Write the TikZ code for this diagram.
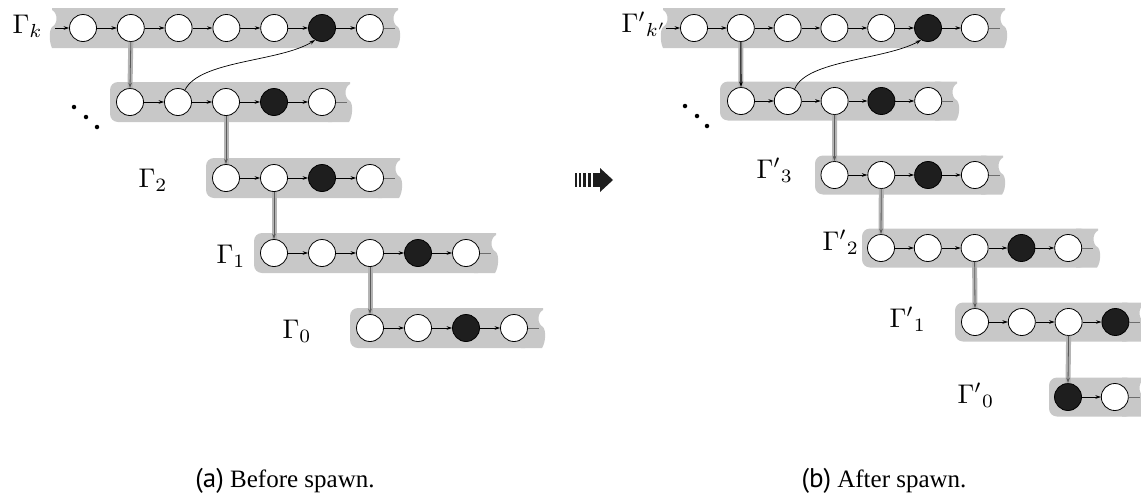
\documentclass[tikz,border=0pt]{standalone}
\usepackage{fontspec}
\setmainfont{Liberation Serif}
\newfontfamily\capsans{PT Sans}
\usetikzlibrary{arrows.meta}
\definecolor{bandgray}{RGB}{200,200,200}
\definecolor{connlight}{RGB}{180,180,180}
\definecolor{conndark}{RGB}{90,90,90}
\definecolor{nodeblack}{RGB}{30,30,30}
\definecolor{tailgray}{RGB}{110,110,110}
\tikzset{
 wht/.style={circle, draw=black, line width=0.8pt, fill=white, minimum size=27pt, inner sep=0pt},
 blk/.style={wht, fill=nodeblack},
 edgearrow/.style={line width=0.7pt, -{Stealth[length=5.5pt,width=3.6pt]}},
 tailline/.style={line width=0.7pt, draw=tailgray},
 connback/.style={line width=5pt, draw=connlight},
 connfront/.style={line width=0.8pt, draw=conndark, -{Stealth[length=5.5pt,width=3.6pt]}},
 connfrontdark/.style={line width=1.1pt, draw=black, -{Stealth[length=5.5pt,width=3.6pt]}},
 gammalabel/.style={inner sep=0pt, scale=2.7, anchor=base west},
 captext/.style={inner sep=0pt, anchor=base, font=\fontsize{25}{28}\selectfont},
 dotmark/.style={circle, fill=black, inner sep=0pt, minimum size=4.5pt},
}
\newcommand\capletter[1]{{\capsans\fontsize{27}{29}\selectfont (#1)}}
\newcommand\bandround[4]{%
  \fill[bandgray, rounded corners=8pt] (#1,#3) rectangle (#2-10,#4);
  \fill[bandgray] (#2-22,#3) -- (#2,#3) -- (#2,#3+2) .. controls (#2-6,#3+5) and (#2-6,#3+16) .. (#2,#3+19) .. controls (#2+3,#3+22) and (#2+3,#3+34) .. (#2-1,#4) -- (#2-22,#4) -- cycle;
}
\newcommand\bandwave[4]{%
  \fill[bandgray] (#1,#3) -- (#2,#3) -- (#2,#3+2) .. controls (#2-6,#3+5) and (#2-6,#3+16) .. (#2,#3+19) .. controls (#2+3,#3+22) and (#2+3,#3+34) .. (#2-1,#4) -- (#1,#4) .. controls (#1-3,#3+34) and (#1-3,#3+22) .. (#1,#3+19) .. controls (#1+6,#3+16) and (#1+6,#3+5) .. (#1,#3+2) -- cycle;
}
\newcommand\chainrow[6]{%
  \foreach \i in {1,...,#5}{%
    \pgfmathsetmacro\xx{#2+(\i-1)*#3}%
    \ifnum\i=#6\relax
      \node[blk] (#1-\i) at (\xx,#4) {};
    \else
      \node[wht] (#1-\i) at (\xx,#4) {};
    \fi
  }%
  \foreach \i in {2,...,#5}{%
    \pgfmathtruncatemacro\pp{\i-1}%
    \draw[edgearrow] (#1-\pp) -- (#1-\i);
  }%
  \draw[tailline] (#1-#5.east) -- ++(11,0);
}
\begin{document}
\begin{tikzpicture}[x=1pt,y=-1pt]
\useasboundingbox (0,0) rectangle (1141,501);
\clip (0,0) rectangle (1141,501);
% ---------- panel (a) bands ----------
\bandwave{52}{398}{8}{48}
\bandround{110}{350}{82}{122}
\bandround{206}{400}{158}{198}
\bandround{254}{496}{233}{273}
\bandround{350}{543}{308}{348}
% ---------- panel (b) bands ----------
\bandwave{663}{1005}{8}{48}
\bandround{720}{957}{81.5}{120.5}
\bandround{815}{1003}{155.5}{194.5}
\bandround{862}{1098}{228.5}{267.5}
\bandround{955}{1144}{302.5}{341.5}
\bandround{1049}{1144}{377.5}{416.5}
% rows (a)
\chainrow{a1}{83}{47.8}{28}{7}{6}
\chainrow{a2}{130}{48}{102}{5}{4}
\chainrow{a3}{226}{48}{178}{4}{3}
\chainrow{a4}{274}{48}{253}{5}{4}
\chainrow{a5}{370}{48}{328}{4}{3}
% rows (b)
\chainrow{b1}{694}{46.8}{28}{7}{6}
\chainrow{b2}{741}{46.8}{101}{5}{4}
\chainrow{b3}{834.5}{46.8}{175}{4}{3}
\chainrow{b4}{881}{46.8}{248}{5}{4}
\chainrow{b5}{975}{46.8}{322}{4}{4}
\chainrow{b6}{1068}{46.8}{397}{2}{1}
% incoming arrows
\coordinate (ain) at (55,28);
\coordinate (bin) at (666,28);
\draw[edgearrow] (ain) -- (a1-1);
\draw[edgearrow] (bin) -- (b1-1);
% vertical connectors (a)
\foreach \u/\v in {a1-2/a2-1, a2-3/a3-1, a3-2/a4-1, a4-3/a5-1}{
  \draw[connback] (\u.south) -- (\v.north);
  \draw[connfront] (\u.south) -- (\v.north);
}
% vertical connectors (b)
\draw[connback] (b1-2.south) -- (b2-1.north);
\draw[connfrontdark] (b1-2.south) -- (b2-1.north);
\foreach \u/\v in {b2-3/b3-1, b3-2/b4-1, b4-3/b5-1, b5-3/b6-1}{
  \draw[connback] (\u.south) -- (\v.north);
  \draw[connfront] (\u.south) -- (\v.north);
}
% curved arrows
\draw[edgearrow] (a2-2.60) .. controls (200,60) and (280,62) .. (a1-6.240);
\draw[edgearrow] (b2-2.60) .. controls (806,60) and (885,60) .. (b1-6.240);
% ellipsis dots
\node[dotmark] (ad1) at (74,107) {};
\node[dotmark] (ad2) at (86,117) {};
\node[dotmark] (ad3) at (97,127) {};
\node[dotmark] (bd1) at (685,106) {};
\node[dotmark] (bd2) at (697,116) {};
\node[dotmark] (bd3) at (707,126) {};
% labels
\node[gammalabel] (lak) at (12,33) {$\Gamma_k$};
\node[gammalabel] (la2) at (138,187) {$\Gamma_2$};
\node[gammalabel] (la1) at (216,263) {$\Gamma_1$};
\node[gammalabel] (la0) at (282,338) {$\Gamma_0$};
\node[gammalabel] (lbk) at (621,32) {$\Gamma'{}_{k'}$};
\node[gammalabel] (lb3) at (756,178) {$\Gamma'{}_3$};
\node[gammalabel] (lb2) at (822,250) {$\Gamma'{}_2$};
\node[gammalabel] (lb1) at (889,327) {$\Gamma'{}_1$};
\node[gammalabel] (lb0) at (957,403) {$\Gamma'{}_0$};
% transition arrow
\fill[nodeblack] (575,173) rectangle (576.5,187);
\fill[nodeblack] (579,173) rectangle (581,187);
\fill[nodeblack] (583,173) rectangle (585.5,187);
\fill[nodeblack] (587.5,173) rectangle (590.5,187);
\fill[nodeblack] (592.5,173) rectangle (601,187);
\fill[nodeblack] (600,168) -- (613,180) -- (600,192) -- cycle;
% captions
\node[captext] (capa) at (285,487) {\capletter{a} Before spawn.};
\node[captext] (capb) at (884,487) {\capletter{b} After spawn.};
\end{tikzpicture}
\end{document}
